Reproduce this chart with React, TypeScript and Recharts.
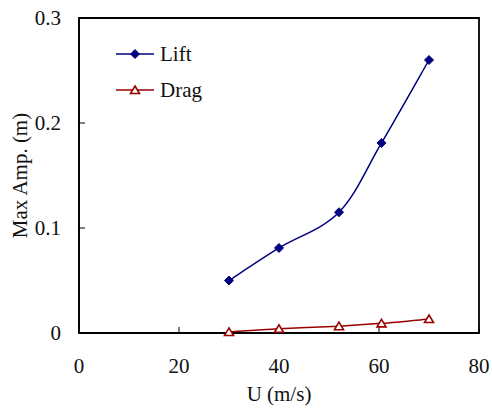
import React from 'react';
import {
  LineChart,
  Line,
  XAxis,
  YAxis,
  Legend,
  ReferenceArea,
} from 'recharts';

// wind speed (m/s) and peak amplitudes (m)
const speeds = [30, 40, 52, 60.5, 70];
const liftAmp = [0.05, 0.081, 0.115, 0.181, 0.26];
const dragAmp = [0.001, 0.004, 0.0065, 0.0092, 0.0133];

const xTicks = [0, 20, 40, 60, 80];
const yTicks = [0, 0.1, 0.2, 0.3];

const LIFT = '#000080';
const DRAG = '#990000';
const FONT = '"Liberation Serif", "Times New Roman", serif';

const data = speeds.map((u, i) => ({ u, lift: liftAmp[i], drag: dragAmp[i] }));

// Catmull-Rom style smoothing, close to spreadsheet "smoothed line"
const smoothCurve = (context: any) => {
  let pts: number[][] = [];
  return {
    areaStart() {},
    areaEnd() {},
    lineStart() {
      pts = [];
    },
    point(x: number, y: number) {
      pts.push([x, y]);
    },
    lineEnd() {
      if (!pts.length) return;
      context.moveTo(pts[0][0], pts[0][1]);
      for (let i = 0; i < pts.length - 1; i++) {
        const p0 = pts[i - 1] || pts[i];
        const p1 = pts[i];
        const p2 = pts[i + 1];
        const p3 = pts[i + 2] || p2;
        context.bezierCurveTo(
          p1[0] + (p2[0] - p0[0]) / 6,
          p1[1] + (p2[1] - p0[1]) / 6,
          p2[0] - (p3[0] - p1[0]) / 6,
          p2[1] - (p3[1] - p1[1]) / 6,
          p2[0],
          p2[1]
        );
      }
    },
  };
};

const Diamond = (props: any) => {
  const { cx, cy } = props;
  if (cx == null || cy == null) return null;
  const r = 4.5;
  return (
    <polygon
      points={`${cx},${cy - r} ${cx + r},${cy} ${cx},${cy + r} ${cx - r},${cy}`}
      fill={LIFT}
      stroke={LIFT}
      strokeWidth={1}
    />
  );
};

const Triangle = (props: any) => {
  const { cx, cy } = props;
  if (cx == null || cy == null) return null;
  return (
    <polygon
      points={`${cx},${cy - 4} ${cx + 4.5},${cy + 3.5} ${cx - 4.5},${cy + 3.5}`}
      fill="#fff"
      stroke={DRAG}
      strokeWidth={1.6}
    />
  );
};

const LegendBox = () => (
  <svg width={110} height={72} style={{ display: 'block' }}>
    <line x1={6} x2={44} y1={18} y2={18} stroke={LIFT} strokeWidth={1.5} />
    <Diamond cx={25} cy={18} />
    <text x={50} y={18} dy="0.35em" fontSize={21} fill="#111">
      Lift
    </text>
    <line x1={6} x2={44} y1={54} y2={54} stroke={DRAG} strokeWidth={1.5} />
    <Triangle cx={25} cy={54} />
    <text x={50} y={54} dy="0.35em" fontSize={21} fill="#111">
      Drag
    </text>
  </svg>
);

const YTitle = (props: any) => {
  const vb = props.viewBox || {};
  const x = 27;
  const y = (vb.y ?? 18) + (vb.height ?? 315) / 2;
  return (
    <text
      x={x}
      y={y}
      transform={`rotate(-90 ${x} ${y})`}
      textAnchor="middle"
      fontSize={21}
      fill="#111"
    >
      Max Amp. (m)
    </text>
  );
};

const tickStyle = { fill: '#111', fontSize: 21 };

export default function App() {
  return (
    <div style={{ position: 'absolute', left: 0, top: 0, background: '#fff' }}>
      <style>{`svg text { font-family: ${FONT}; }`}</style>
      <LineChart
        width={492}
        height={412}
        data={data}
        margin={{ top: 18, right: 13, left: 0, bottom: 0 }}
      >
        <XAxis
          dataKey="u"
          type="number"
          domain={[0, 80]}
          ticks={xTicks}
          height={79}
          tick={tickStyle}
          tickSize={-6}
          tickMargin={31}
          tickLine={{ stroke: '#000' }}
          axisLine={{ stroke: '#000', strokeWidth: 1.5 }}
          label={{
            value: 'U (m/s)',
            position: 'insideBottom',
            offset: 11,
            fill: '#111',
            fontSize: 21,
          }}
        />
        <YAxis
          type="number"
          domain={[0, 0.3]}
          ticks={yTicks}
          width={79}
          tick={tickStyle}
          tickSize={-6}
          tickMargin={24}
          tickLine={{ stroke: '#000' }}
          axisLine={{ stroke: '#000', strokeWidth: 1.5 }}
          label={{ content: YTitle }}
        />
        <ReferenceArea
          x1={0}
          x2={80}
          y1={0}
          y2={0.3}
          fill="none"
          stroke="#000"
          strokeWidth={1.8}
          ifOverflow="visible"
        />
        <Line
          dataKey="lift"
          type={smoothCurve as any}
          stroke={LIFT}
          strokeWidth={1.5}
          dot={<Diamond />}
          isAnimationActive={false}
        />
        <Line
          dataKey="drag"
          type={smoothCurve as any}
          stroke={DRAG}
          strokeWidth={1.5}
          dot={<Triangle />}
          isAnimationActive={false}
        />
        <Legend
          layout="vertical"
          align="center"
          verticalAlign="middle"
          wrapperStyle={{ left: 110, top: 36, width: 'auto' }}
          content={LegendBox}
        />
      </LineChart>
    </div>
  );
}
